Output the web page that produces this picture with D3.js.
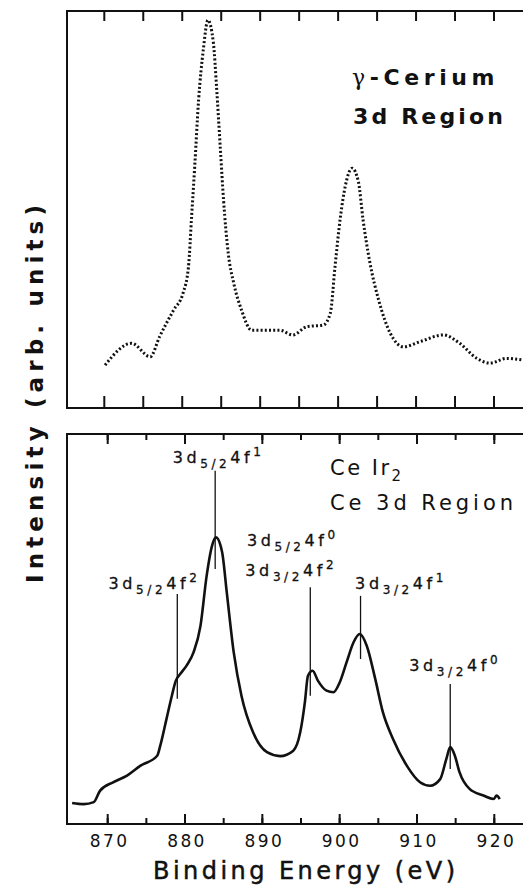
<!DOCTYPE html>
<html>
<head>
<meta charset="utf-8">
<script src="https://cdn.jsdelivr.net/npm/d3@7"></script>
<style>
  html, body { margin: 0; padding: 0; background: #fff; }
  svg { display: block; }
  text { font-family: "DejaVu Sans", "Liberation Sans", sans-serif; fill: #111; }
</style>
</head>
<body>
<div id="chart"></div>
<script>
////////// DATA (energy in eV, intensity in arb. units) //////////

// gamma-cerium, 3d region (upper panel, dotted trace)
var ceEnergy = [870.1, 873.5, 875.9, 877.1, 878.9, 880.1, 880.8, 881.2, 881.6, 882.1,
                882.7, 883.3, 884.0, 884.4, 884.9, 885.3, 885.9, 886.6, 887.6, 888.9,
                890.8, 892.5, 894.2, 896.0, 898.1, 899.0, 899.6, 900.3, 900.9, 901.8,
                902.6, 903.2, 904.1, 905.2, 906.7, 908.4, 910.5, 913.5, 915.6, 917.8,
                919.5, 921.6, 923.6],
    ceIntensity = [10.8, 16.3, 12.9, 18.0, 24.7, 28.9, 35.6, 48.2, 60.8, 77.6,
                   90.2, 97.7, 91.9, 80.9, 65.0, 52.4, 39.0, 31.5, 24.7, 19.6,
                   19.6, 19.6, 18.4, 20.5, 20.9, 23.9, 35.6, 48.2, 55.7, 60.4,
                   57.0, 47.4, 36.4, 27.2, 18.8, 15.4, 16.7, 18.4, 16.3, 12.5,
                   11.3, 12.5, 12.1];

// CeIr2, Ce 3d region (lower panel, solid trace)
var irEnergy = [865.4, 866.9, 868.2, 869.0, 870.7, 872.5, 874.2, 876.4, 876.8, 877.6,
                878.3, 878.8, 879.4, 880.2, 881.1, 882.0, 882.8, 883.5, 884.0, 884.8,
                885.4, 886.3, 887.3, 888.8, 890.6, 892.3, 894.0, 894.9, 895.5, 895.9,
                896.5, 897.2, 898.3, 899.2, 900.0, 900.9, 901.8, 902.6, 903.5, 904.6,
                905.6, 906.9, 908.7, 910.4, 911.7, 913.0, 913.8, 914.3, 914.9, 915.5,
                916.8, 918.6, 919.9, 920.3, 920.7],
    irIntensity = [5.4, 5.1, 5.6, 8.5, 10.7, 12.4, 14.9, 17.5, 20.1, 26.9,
                   32.9, 36.7, 38.5, 40.6, 44.0, 50.8, 63.7, 71.4, 73.5, 69.7,
                   59.4, 44.0, 32.9, 23.5, 18.4, 17.4, 18.8, 23.5, 31.2, 38.0,
                   39.3, 36.7, 34.2, 33.8, 36.3, 41.5, 46.6, 48.7, 45.7, 37.2,
                   28.6, 21.8, 14.9, 10.7, 9.8, 11.5, 16.7, 19.7, 17.5, 13.3,
                   9.0, 7.3, 6.4, 7.3, 6.4];

// peak assignments in the lower panel
var peakEnergy = [879.0, 883.9, 896.2, 902.7, 914.3],
    peakLineTop = [59.0, 90.6, 60.7, 58.5, 35.9],
    peakLineBottom = [32.1, 65.4, 32.9, 42.3, 14.1];

// label text: [core level, j subscript, 4f count]
var peakLabels = [
  ['3d', '5/2', '2'],
  ['3d', '5/2', '1'],
  ['3d', '5/2', '0'],
  ['3d', '3/2', '2'],
  ['3d', '3/2', '1'],
  ['3d', '3/2', '0']
];
var labelEnergy = [870.1, 878.4, 888.0, 887.8, 902.0, 909.0],
    labelIntensity = [60.3, 92.6, 71.3, 63.6, 60.3, 39.2];

var minorTicks = [870, 875, 880, 885, 890, 895, 900, 905, 910, 915, 920],
    majorTicks = [870, 880, 890, 900, 910, 920];

////////////////////////////////////////////////////////////////////////////////

var width = 523, height = 886;
var frameLeft = 67, frameRight = 530;

var svg = d3.select('#chart')
  .append('svg')
    .attr('width', width)
    .attr('height', height);

// the two panels use slightly different energy scales (as printed)
var xTop = d3.scaleLinear().domain([870, 920]).range([104.3, 494]),
    xBot = d3.scaleLinear().domain([870, 920]).range([107.7, 494.3]),
    yTop = d3.scaleLinear().domain([0, 100]).range([408, 11]),
    yBot = d3.scaleLinear().domain([0, 100]).range([824, 434]);

function frame(y) {
  var y0 = y.range()[1], y1 = y.range()[0];
  svg.append('rect')
    .attr('x', frameLeft)
    .attr('y', y0)
    .attr('width', frameRight - frameLeft)
    .attr('height', y1 - y0)
    .attr('fill', 'none')
    .attr('stroke', '#111')
    .attr('stroke-width', 2);
}

// inward ticks: dir = +1 points down from a top edge, -1 points up from a bottom edge
function ticks(x, yPos, values, size, dir) {
  svg.append('g').selectAll('line')
    .data(values)
    .enter()
      .append('line')
        .attr('x1', function(d) { return x(d); })
        .attr('x2', function(d) { return x(d); })
        .attr('y1', yPos)
        .attr('y2', yPos + dir * size)
        .attr('stroke', '#111')
        .attr('stroke-width', 2);
}

frame(yTop);
ticks(xTop, 11, minorTicks, 10, 1);
ticks(xTop, 408, minorTicks, 12, -1);

frame(yBot);
ticks(xBot, 434, minorTicks, 6, 1);
ticks(xBot, 434, majorTicks, 10, 1);
ticks(xBot, 824, minorTicks, 6, -1);
ticks(xBot, 824, majorTicks, 10, -1);

// tick labels
var lbl = svg.append('g')
  .attr('transform', 'translate(1.5,824)')
  .call(d3.axisBottom(xBot).tickValues(majorTicks).tickSize(0).tickPadding(11));
lbl.select('.domain').remove();
lbl.selectAll('text')
  .attr('fill', '#111')
  .style('font-family', '"DejaVu Sans", sans-serif')
  .style('font-size', '17px')
  .style('letter-spacing', '2.4px');

// upper trace: dotted
var topData = ceEnergy.map(function(e, i) { return [e, ceIntensity[i]]; });
svg.append('path')
  .datum(topData)
  .attr('d', d3.line()
    .x(function(d) { return xTop(d[0]); })
    .y(function(d) { return yTop(d[1]); })
    .curve(d3.curveMonotoneX))
  .attr('fill', 'none')
  .attr('stroke', '#111')
  .attr('stroke-width', 3)
  .attr('stroke-dasharray', '2 2.2');

// lower trace: solid
var botData = irEnergy.map(function(e, i) { return [e, irIntensity[i]]; });
svg.append('path')
  .datum(botData)
  .attr('d', d3.line()
    .x(function(d) { return xBot(d[0]); })
    .y(function(d) { return yBot(d[1]); })
    .curve(d3.curveMonotoneX))
  .attr('fill', 'none')
  .attr('stroke', '#111')
  .attr('stroke-width', 2.6)
  .attr('stroke-linejoin', 'round');

// peak marker lines
svg.append('g').selectAll('line')
  .data(peakEnergy)
  .enter()
    .append('line')
      .attr('x1', function(d) { return xBot(d); })
      .attr('x2', function(d) { return xBot(d); })
      .attr('y1', function(d, i) { return yBot(peakLineTop[i]); })
      .attr('y2', function(d, i) { return yBot(peakLineBottom[i]); })
      .attr('stroke', '#111')
      .attr('stroke-width', 1.3);

// peak labels: 3d_{j} 4f^{n}
var lab = svg.append('g').selectAll('text')
  .data(peakLabels)
  .enter()
    .append('text')
      .attr('x', function(d, i) { return xBot(labelEnergy[i]); })
      .attr('y', function(d, i) { return yBot(labelIntensity[i]); })
      .style('font-size', '16px')
      .style('letter-spacing', '3.6px')
      .style('stroke', '#111')
      .style('stroke-width', 0.3);
lab.append('tspan').text(function(d) { return d[0]; });
lab.append('tspan')
  .attr('dy', 5)
  .style('font-size', '12px')
  .text(function(d) { return d[1]; });
lab.append('tspan')
  .attr('dy', -5)
  .text('4f');
lab.append('tspan')
  .attr('dy', -7)
  .style('font-size', '12px')
  .text(function(d) { return d[2]; });

// panel titles
var gam = svg.append('text')
  .attr('x', 352)
  .attr('y', 85)
  .style('font-size', '22px')
  .style('font-weight', 'bold')
  .style('letter-spacing', '4.6px');
gam.append('tspan')
  .style('font-weight', 'normal')
  .style('font-family', '"DejaVu Serif", serif')
  .text('\u03b3');
gam.append('tspan').text('-Cerium');
svg.append('text')
  .attr('x', 353)
  .attr('y', 124)
  .attr('textLength', 150)
  .attr('lengthAdjust', 'spacing')
  .style('font-size', '22px')
  .style('font-weight', 'bold')
  .text('3d Region');

var ceir = svg.append('text')
  .attr('x', 330)
  .attr('y', 475)
  .style('font-size', '21px')
  .style('letter-spacing', '2.5px');
ceir.append('tspan').text('Ce I');
ceir.append('tspan').text('r');
ceir.append('tspan')
  .attr('dy', 6)
  .style('font-size', '15px')
  .text('2');
svg.append('text')
  .attr('x', 330)
  .attr('y', 510)
  .attr('textLength', 183)
  .attr('lengthAdjust', 'spacing')
  .style('font-size', '21px')
  .text('Ce 3d Region');

// axis titles
svg.append('text')
  .attr('x', 153)
  .attr('y', 879)
  .attr('textLength', 302)
  .attr('lengthAdjust', 'spacing')
  .style('font-size', '24px')
  .style('stroke', '#111')
  .style('stroke-width', 0.5)
  .text('Binding Energy (eV)');

svg.append('text')
  .attr('transform', 'translate(43,583) rotate(-90)')
  .attr('textLength', 378)
  .attr('lengthAdjust', 'spacing')
  .style('font-size', '23px')
  .style('font-weight', 'bold')
  .text('Intensity (arb. units)');
</script>
</body>
</html>
